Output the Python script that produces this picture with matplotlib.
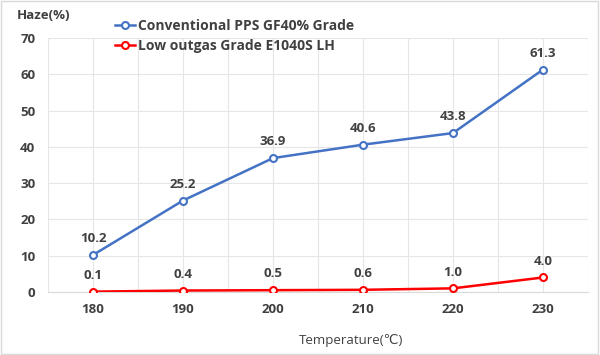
import matplotlib.pyplot as plt
from matplotlib.patches import Rectangle

plt.rcParams['font.family'] = ['Open Sans', 'DejaVu Sans']

temperatures = [180, 190, 200, 210, 220, 230]
conventional = [10.2, 25.2, 36.9, 40.6, 43.8, 61.3]
low_outgas = [0.1, 0.4, 0.5, 0.6, 1.0, 4.0]
series_names = ["Conventional PPS GF40% Grade", "Low outgas Grade E1040S LH"]

fig = plt.figure(figsize=(6, 3.55), dpi=100)
ax = fig.add_axes([0.08, 0.1775, 0.90, 0.7155])

ax.plot(temperatures, conventional, color='#4472C4', lw=1.8, marker='o', ms=5,
        mfc='white', mec='#4472C4', mew=1.5, label=series_names[0], zorder=3)
ax.plot(temperatures, low_outgas, color='#FF0000', lw=1.8, marker='o', ms=5,
        mfc='white', mec='#FF0000', mew=1.5, label=series_names[1], zorder=3)

for x, y in zip(temperatures, conventional):
    ax.annotate(f"{y:.1f}", (x, y), xytext=(0, 7), textcoords='offset points',
                ha='center', va='bottom', fontsize=9.5, fontweight='bold', color='#404040')
for x, y in zip(temperatures, low_outgas):
    ax.annotate(f"{y:.1f}", (x, y), xytext=(0, 7), textcoords='offset points',
                ha='center', va='bottom', fontsize=9.5, fontweight='bold', color='#404040')

ax.set_xlim(175, 235)
ax.set_ylim(0, 70)
ax.set_xticks(range(175, 236, 5))
ax.set_xticklabels(['' if t % 10 == 5 else str(t) for t in range(175, 236, 5)])
ax.set_yticks(range(0, 71, 10))
ax.tick_params(length=0, labelsize=9.5, labelcolor='#404040')
ax.tick_params(axis='x', pad=8)
ax.tick_params(axis='y', pad=9)
for lab in ax.get_xticklabels() + ax.get_yticklabels():
    lab.set_fontweight('bold')
ax.grid(True, color='#E6E6E6', lw=0.8)
for s in ['top', 'right', 'left']:
    ax.spines[s].set_visible(False)
ax.spines['bottom'].set_color('#D9D9D9')

fig.text(0.028, 0.955, "Haze(%)", fontsize=9.5, fontweight='bold', color='#404040',
         ha='left', va='center')
fig.text(0.585, 0.042, "Temperature(℃)", fontsize=9.5, color='#404040',
         ha='center', va='center')

ax.legend(loc='upper left', bbox_to_anchor=(0.1, 1.125), frameon=False,
          handlelength=1.5, handletextpad=0.2, labelspacing=0.45,
          prop={'weight': 'bold', 'size': 10}, labelcolor='#404040')

fig.patches.append(Rectangle((0.002, 0.003), 0.995, 0.994, transform=fig.transFigure,
                             fill=False, ec='#D9D9D9', lw=1))

fig.savefig('out.png', dpi=100)
